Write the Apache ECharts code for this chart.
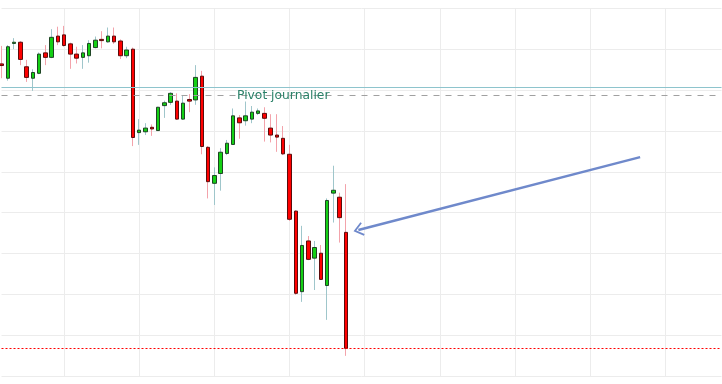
<!DOCTYPE html>
<html>
<head>
<meta charset="utf-8">
<script src="https://cdn.jsdelivr.net/npm/echarts@6/dist/echarts.min.js"></script>
<style>
html,body{margin:0;padding:0;background:#fff;}
#chart{width:722px;height:384px;}
</style>
</head>
<body>
<div id="chart"></div>
<script>
// ---- data ----
const categories = Array.from({length: 116}, (_, i) => String(i));
const opens  = [4576.4,4572.9,4581.4,4581.7,4575.7,4572.9,4574.1,4579.1,4578.0,4583.2,
                4583.5,4581.3,4578.8,4578.0,4578.4,4580.4,4582.4,4581.8,4583.2,4582.0,
                4578.4,4580.0,4559.6,4559.8,4560.9,4560.1,4566.2,4567.0,4567.3,4562.9,
                4567.7,4567.6,4573.4,4556.0,4547.2,4549.6,4554.5,4556.7,4563.2,4562.5,
                4562.9,4564.3,4564.3,4560.7,4559.0,4558.2,4554.3,4540.4,4520.7,4533.1,
                4528.9,4530.1,4522.2,4544.8,4543.8,4535.2];
const closes = [4576.0,4580.6,4581.7,4577.5,4573.1,4574.3,4578.8,4578.0,4582.9,4581.8,
                4580.9,4578.8,4577.8,4579.1,4581.4,4582.2,4582.1,4583.2,4581.8,4578.4,
                4579.8,4558.4,4560.2,4560.7,4560.5,4565.8,4566.9,4569.2,4562.9,4566.8,
                4567.3,4573.1,4556.2,4547.6,4549.1,4554.8,4557.0,4563.7,4562.0,4563.7,
                4564.6,4564.9,4563.1,4559.0,4558.5,4554.4,4538.4,4520.3,4532.0,4528.6,
                4531.5,4523.7,4543.0,4545.5,4538.8,4506.85];
const lows   = [4572.9,4572.3,4580.0,4576.1,4572.0,4569.8,4573.9,4576.1,4577.8,4581.0,
                4580.6,4575.2,4576.5,4575.2,4576.7,4580.2,4580.2,4581.6,4581.3,4577.6,
                4577.8,4556.3,4556.6,4559.0,4558.8,4560.0,4563.2,4566.4,4562.7,4562.7,
                4564.6,4566.4,4554.3,4543.5,4541.9,4545.4,4554.1,4556.6,4558.1,4561.3,
                4561.9,4563.9,4557.4,4557.2,4554.9,4554.1,4538.0,4519.9,4518.2,4528.4,
                4521.1,4523.6,4513.8,4537.6,4532.7,4505.0];
const highs  = [4580.8,4581.0,4582.7,4582.0,4577.4,4575.1,4579.2,4581.0,4584.9,4585.5,
                4585.7,4581.6,4580.6,4581.0,4582.2,4583.1,4584.4,4585.3,4585.3,4582.4,
                4580.6,4580.4,4562.9,4561.9,4561.6,4565.9,4567.4,4569.5,4569.2,4568.8,
                4569.0,4576.1,4574.7,4556.3,4551.1,4555.8,4557.8,4565.5,4563.9,4567.2,
                4566.1,4565.5,4565.8,4564.1,4564.1,4561.2,4556.6,4540.6,4536.8,4534.3,
                4533.1,4532.1,4543.5,4551.5,4544.9,4547.0];
const pivotLevel = 4570.7;
const pivotLabelLevel = 4568.7;
const pivotLabel = 'Pivot journalier';
const supportLevel = 4506.85;
const arrowFrom = [102, 4553.6];
const arrowTo = [56.6, 4535.8];

// ---- build ----
const fullData = opens.map((o, i) => [o, closes[i], lows[i], highs[i]]);
const bodyData = opens.map((o, i) => [o, closes[i], Math.min(o, closes[i]), Math.max(o, closes[i])]);

const chart = echarts.init(document.getElementById('chart'), null, {renderer: 'canvas'});
chart.setOption({
  animation: false,
  backgroundColor: '#ffffff',
  grid: {left: 1.5, right: 0.5, top: 8.3, bottom: 7.7},
  xAxis: {
    type: 'category',
    data: categories,
    boundaryGap: false,
    axisLine: {show: false},
    axisTick: {show: false},
    axisLabel: {show: false},
    splitLine: {show: true, interval: (i) => i % 12 === 10, lineStyle: {color: '#ececec', width: 1}}
  },
  yAxis: {
    type: 'value',
    min: 4500, max: 4590, interval: 10,
    axisLine: {show: false},
    axisTick: {show: false},
    axisLabel: {show: false},
    splitLine: {show: true, lineStyle: {color: '#ececec', width: 1}}
  },
  series: [
    {
      type: 'candlestick',
      data: fullData,
      barWidth: 1,
      itemStyle: {color: '#9fc6cb', color0: '#f3a3ab', borderColor: '#9fc6cb', borderColor0: '#f3a3ab', borderWidth: 1},
      markLine: {
        silent: true,
        symbol: ['none', 'none'],
        label: {show: false},
        data: [
          {yAxis: pivotLevel, lineStyle: {color: '#8ec4cd', width: 1.2, type: 'solid'}},
          {yAxis: pivotLabelLevel, lineStyle: {color: '#a0a0a0', width: 1, type: [6, 6]}},
          {yAxis: supportLevel, lineStyle: {color: '#ff0000', width: 1, type: [2, 2]}}
        ]
      }
    },
    {
      type: 'candlestick',
      data: bodyData,
      barWidth: 4,
      itemStyle: {color: '#14d014', color0: '#ff0000', borderColor: '#1e4424', borderColor0: '#5a0c0c', borderWidth: 1},
      markPoint: {
        silent: true,
        symbol: 'circle',
        symbolSize: 0,
        data: [{coord: [44.7, pivotLabelLevel]}],
        label: {show: true, position: 'inside', formatter: pivotLabel, color: '#2a8068', fontSize: 12.3, fontFamily: 'DejaVu Sans'}
      },
      markLine: {
        silent: true,
        symbol: ['none', 'path://M50,0 L100,80 L90,90 L50,26 L10,90 L0,80 Z'],
        symbolSize: [14, 10],
        label: {show: false},
        lineStyle: {color: '#6f89cb', width: 2.5, type: 'solid'},
        data: [[{coord: arrowFrom}, {coord: arrowTo}]]
      }
    }
  ]
});
</script>
</body>
</html>
